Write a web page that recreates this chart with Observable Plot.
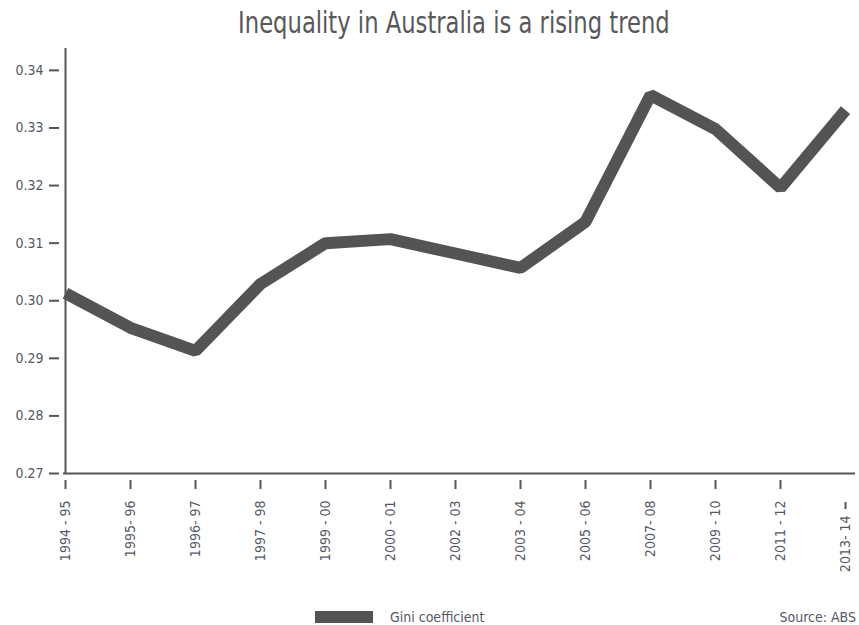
<!DOCTYPE html>
<html>
<head>
<meta charset="utf-8">
<script src="https://cdn.jsdelivr.net/npm/d3@7"></script>
<script src="https://cdn.jsdelivr.net/npm/@observablehq/plot@0.6"></script>
<style>
  html, body { margin: 0; padding: 0; background: #ffffff; }
  #wrap { position: relative; width: 859px; height: 625px; overflow: hidden; font-family: "DejaVu Sans Condensed", "DejaVu Sans", sans-serif; color: #555559; }
  #title { position: absolute; left: 0; top: 0; width: 908px; height: 45px; line-height: 45px; text-align: center; font-size: 30px; color: #58585c; }
  #title span { display: inline-block; transform: scaleX(0.84); transform-origin: center; }
  #chart { position: absolute; left: 0; top: 45px; }
  #legend { position: absolute; left: 315px; top: 609px; height: 16px; display: flex; align-items: center; font-size: 14px; color: #555866; }
  #legend .sw { width: 58px; height: 12px; background: #545457; margin-right: 17px; }
  #source { position: absolute; right: 3px; top: 609px; height: 16px; line-height: 16px; font-size: 14px; color: #555866; }
</style>
</head>
<body>
<div id="wrap">
  <div id="title"><span>Inequality in Australia is a rising trend</span></div>
  <div id="chart"></div>
  <div id="legend"><div class="sw"></div><span>Gini coefficient</span></div>
  <div id="source">Source: ABS</div>
</div>
<script>
const categories = ["1994 - 95","1995- 96","1996- 97","1997 - 98","1999 - 00","2000 - 01","2002 - 03","2003 - 04","2005 - 06","2007- 08","2009 - 10","2011 - 12","2013- 14"];
const gini = [0.3013, 0.2953, 0.2913, 0.3029, 0.3100, 0.3107, 0.3082, 0.3057, 0.3137, 0.3357, 0.3298, 0.3196, 0.3331];
const yTicks = [0.27, 0.28, 0.29, 0.30, 0.31, 0.32, 0.33, 0.34];

const data = categories.map((c, i) => ({period: c, value: gini[i]}));
const axisColor = "#555558";
const textColor = "#555866";

const chart = Plot.plot({
  width: 859,
  height: 550,
  marginLeft: 63,
  marginRight: 4,
  marginTop: 3,
  marginBottom: 122,
  style: {fontFamily: '"DejaVu Sans Condensed", "DejaVu Sans", sans-serif', fontSize: "14px", background: "transparent"},
  x: {type: "point", domain: categories, padding: 0, insetRight: 9, label: null},
  y: {domain: [0.27, 0.3438], label: null},
  marks: [
    Plot.axisY({ticks: yTicks, tickFormat: d3.format(".2f"), tickSize: 10, dx: -4, tickPadding: 6, stroke: axisColor, strokeWidth: 2, fill: textColor, label: null}),
    Plot.axisX({ticks: categories.slice(0, -1), tickSize: 9, dy: 7, tickPadding: 11, tickRotate: -90, stroke: axisColor, strokeWidth: 2, fill: textColor, label: null}),
    Plot.axisX({ticks: categories.slice(-1), tickSize: 7, dy: 29, tickPadding: 6, tickRotate: -90, stroke: axisColor, strokeWidth: 2, fill: textColor, label: null}),
    Plot.ruleX([categories[0]], {stroke: axisColor, strokeWidth: 2}),
    Plot.ruleY([0.27], {stroke: axisColor, strokeWidth: 2}),
    Plot.line(data, {x: "period", y: "value", stroke: "#545457", strokeWidth: 12, strokeLinejoin: "miter", strokeLinecap: "butt"})
  ]
});
document.getElementById("chart").appendChild(chart);
</script>
</body>
</html>
